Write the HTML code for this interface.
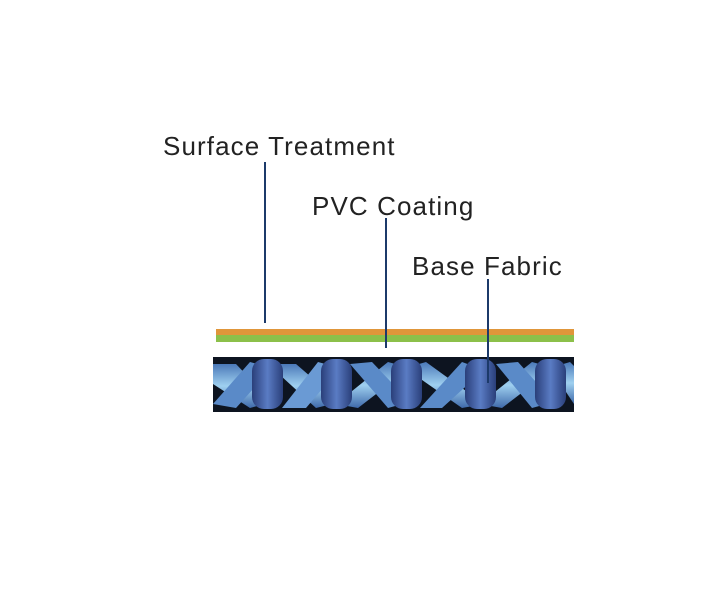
<!DOCTYPE html>
<html><head><style>
body{margin:0;background:#fff;width:722px;height:599px;overflow:hidden;position:relative;font-family:"Liberation Sans",sans-serif;}
.t{position:absolute;font-size:26px;color:#222;white-space:nowrap;letter-spacing:1.1px}
</style></head><body>
<div class="t" style="left:163px;top:131px">Surface Treatment</div>
<div class="t" style="left:312px;top:191px">PVC Coating</div>
<div class="t" style="left:412px;top:251px">Base Fabric</div>
<svg width="722" height="599" style="position:absolute;left:0;top:0">
<defs>
<linearGradient id="cyl" x1="0" x2="1"><stop offset="0" stop-color="#2a3f7a"/><stop offset="0.5" stop-color="#5a7cc4"/><stop offset="1" stop-color="#2a3f7a"/></linearGradient>
<linearGradient id="st" x1="0" y1="0" x2="0" y2="1"><stop offset="0" stop-color="#4a78b8"/><stop offset="0.5" stop-color="#9fd0f0"/><stop offset="1" stop-color="#3f6aaa"/></linearGradient>
</defs>
<rect x="216" y="329" width="358" height="6" fill="#e0963a"/>
<rect x="216" y="335" width="358" height="7" fill="#8cc04a"/>
<rect x="213" y="357" width="361" height="55" fill="#0d1420"/>
<g>
<polygon points="213,364 236,364 272,402 250,408 213,384" fill="url(#st)"/>
<polygon points="268,364 296,364 340,402 316,408" fill="url(#st)"/>
<polygon points="213,404 236,408 272,368 250,362" fill="#5a8ac8"/>
<polygon points="282,408 306,408 340,368 318,362" fill="#6a9ad4"/>
<polygon points="336,404 358,408 410,368 388,362" fill="url(#st)"/>
<polygon points="350,364 372,362 410,402 388,408" fill="#5a8ac8"/>
<polygon points="405,368 426,362 484,404 462,408" fill="url(#st)"/>
<polygon points="420,408 442,408 484,370 462,362" fill="#5a8ac8"/>
<polygon points="480,404 502,408 554,368 532,362" fill="url(#st)"/>
<polygon points="496,364 518,362 554,402 532,408" fill="#5a8ac8"/>
<polygon points="550,368 570,362 574,366 574,404" fill="url(#st)"/>
</g>
<g fill="url(#cyl)">
<rect x="252" y="359" width="31" height="50" rx="12"/>
<rect x="321" y="359" width="31" height="50" rx="12"/>
<rect x="391" y="359" width="31" height="50" rx="12"/>
<rect x="465" y="359" width="31" height="50" rx="12"/>
<rect x="535" y="359" width="31" height="50" rx="12"/>
</g>
<g stroke="#1c3a6a" stroke-width="2">
<line x1="265" y1="162" x2="265" y2="323"/>
<line x1="386" y1="218" x2="386" y2="348"/>
<line x1="488" y1="279" x2="488" y2="383"/>
</g>
</svg>
</body></html>
